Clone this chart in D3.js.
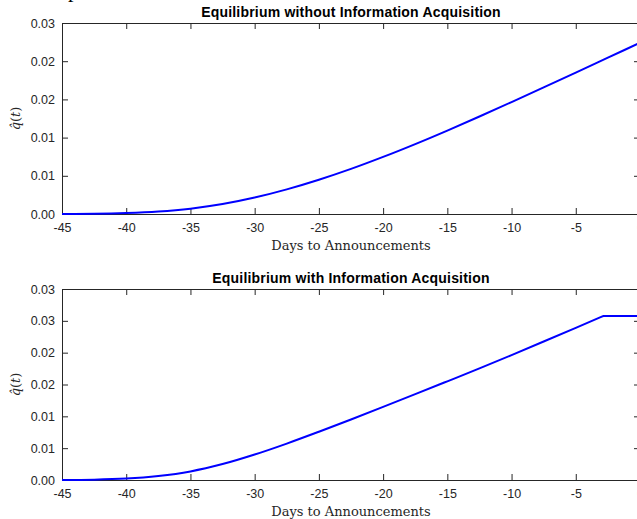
<!DOCTYPE html>
<html>
<head>
<meta charset="utf-8">
<script src="https://cdn.jsdelivr.net/npm/d3@7"></script>
<style>
  body { margin: 0; background: #fff; overflow: hidden; }
  svg { display: block; }
  .tick text { font-family: 'Liberation Sans', Arial, sans-serif; font-size: 12.5px; fill: #262626; }
  .tick line, .domain { stroke: #262626; }
</style>
</head>
<body>
<svg id="chart" width="637" height="519"></svg>
<script>
// values
const daysWithout = [-45, -42.5, -40, -37.5, -35, -32.5, -30, -27.5, -25, -22.5, -20, -17.5, -15, -12.5, -10, -7.5, -5, -2.5, 0];
const qWithout = [0, 0.00003, 0.00013, 0.00033, 0.0007, 0.0013, 0.00215, 0.00322, 0.00448, 0.0059, 0.00747, 0.00915, 0.01092, 0.01276, 0.01465, 0.01657, 0.01851, 0.02046, 0.02241];

const daysWith = [-45, -42.5, -40, -37.5, -35, -32.5, -30, -27.5, -25, -22.5, -20, -17.5, -15, -12.5, -10, -7.5, -5, -2.85, 0];
const qWith = [0, 0.00005, 0.00022, 0.00063, 0.00135, 0.0025, 0.004, 0.00572, 0.00758, 0.00951, 0.01148, 0.01348, 0.0155, 0.01753, 0.01962, 0.02175, 0.0239, 0.02576, 0.02576];

const xTicks = [-45, -40, -35, -30, -25, -20, -15, -10, -5, 0];
const yTicksTop = [0, 0.005, 0.01, 0.015, 0.02, 0.025];
const yLabelsTop = ['0.00', '0.01', '0.01', '0.02', '0.02', '0.03'];
const yTicksBottom = [0, 0.005, 0.01, 0.015, 0.02, 0.025, 0.03];
const yLabelsBottom = ['0.00', '0.01', '0.01', '0.02', '0.02', '0.03', '0.03'];

const titles = ['Equilibrium without Information Acquisition', 'Equilibrium with Information Acquisition'];
const xLabel = 'Days to Announcements';

const svg = d3.select('#chart');
const left = 62;
const right = 640;

// cut-off text at the very top of the figure
svg.append('text')
  .attr('x', 68)
  .attr('y', -3)
  .style('font-family', "'Liberation Serif', serif")
  .style('font-size', '22px')
  .attr('fill', '#000')
  .text('p');

const drawPanel = (panel) => {
  const { top, bottom, yMax, yTicks, yLabels, days, q, title } = panel;
  const x = d3.scaleLinear().domain([-45, 0]).range([left, right]);
  const y = d3.scaleLinear().domain([0, yMax]).range([bottom, top]);
  const g = svg.append('g');

  // box ticks on top and right (no labels)
  g.append('g')
    .attr('transform', `translate(0,${top})`)
    .call(d3.axisTop(x).tickValues(xTicks).tickSize(-6).tickSizeOuter(0).tickFormat(''));
  g.append('g')
    .attr('transform', `translate(${right},0)`)
    .call(d3.axisRight(y).tickValues(yTicks).tickSize(-6).tickSizeOuter(0).tickFormat(''));

  g.append('g')
    .attr('transform', `translate(0,${bottom})`)
    .call(d3.axisBottom(x).tickValues(xTicks).tickSize(-6).tickSizeOuter(0).tickPadding(9).tickFormat(d => String(d)));
  g.append('g')
    .attr('transform', `translate(${left},0)`)
    .call(d3.axisLeft(y).tickValues(yTicks).tickSize(-6).tickSizeOuter(0).tickPadding(7).tickFormat((d, i) => yLabels[i]));

  // smooth rise, then a straight plateau once the value stops changing
  const pts = days.map((d, i) => [d, q[i]]);
  const peak = q.indexOf(d3.max(q));
  const rise = pts.slice(0, peak + 1);
  const flat = pts.slice(peak);
  const smooth = d3.line().x(d => x(d[0])).y(d => y(d[1])).curve(d3.curveMonotoneX);
  const straight = d3.line().x(d => x(d[0])).y(d => y(d[1]));
  g.append('path')
    .attr('d', smooth(rise) + (flat.length > 1 ? straight(flat).replace(/^M/, 'L') : ''))
    .attr('fill', 'none')
    .attr('stroke', '#0000ff')
    .attr('stroke-width', 2);

  g.append('text')
    .attr('x', (left + right) / 2)
    .attr('y', top - 6)
    .attr('text-anchor', 'middle')
    .style('font-family', "'Liberation Sans', Arial, sans-serif")
    .style('font-size', '14px')
    .style('letter-spacing', '0.2px')
    .style('font-weight', 'bold')
    .attr('fill', '#000')
    .text(title);

  g.append('text')
    .attr('x', (left + right) / 2)
    .attr('y', bottom + 36)
    .attr('text-anchor', 'middle')
    .style('font-family', "'DejaVu Serif', serif")
    .style('font-size', '13px')
    .attr('fill', '#262626')
    .text(xLabel);

  const yl = g.append('text')
    .attr('transform', `translate(20,${(top + bottom) / 2}) rotate(-90)`)
    .attr('text-anchor', 'middle')
    .style('font-family', "'DejaVu Serif', serif")
    .style('font-size', '13px')
    .attr('fill', '#262626');
  yl.append('tspan').style('font-style', 'italic').text('q\u0302');
  yl.append('tspan').text('(');
  yl.append('tspan').style('font-style', 'italic').text('t');
  yl.append('tspan').text(')');
};

drawPanel({ top: 23, bottom: 214, yMax: 0.025, yTicks: yTicksTop, yLabels: yLabelsTop, days: daysWithout, q: qWithout, title: titles[0] });
drawPanel({ top: 289, bottom: 480, yMax: 0.03, yTicks: yTicksBottom, yLabels: yLabelsBottom, days: daysWith, q: qWith, title: titles[1] });
</script>
</body>
</html>
